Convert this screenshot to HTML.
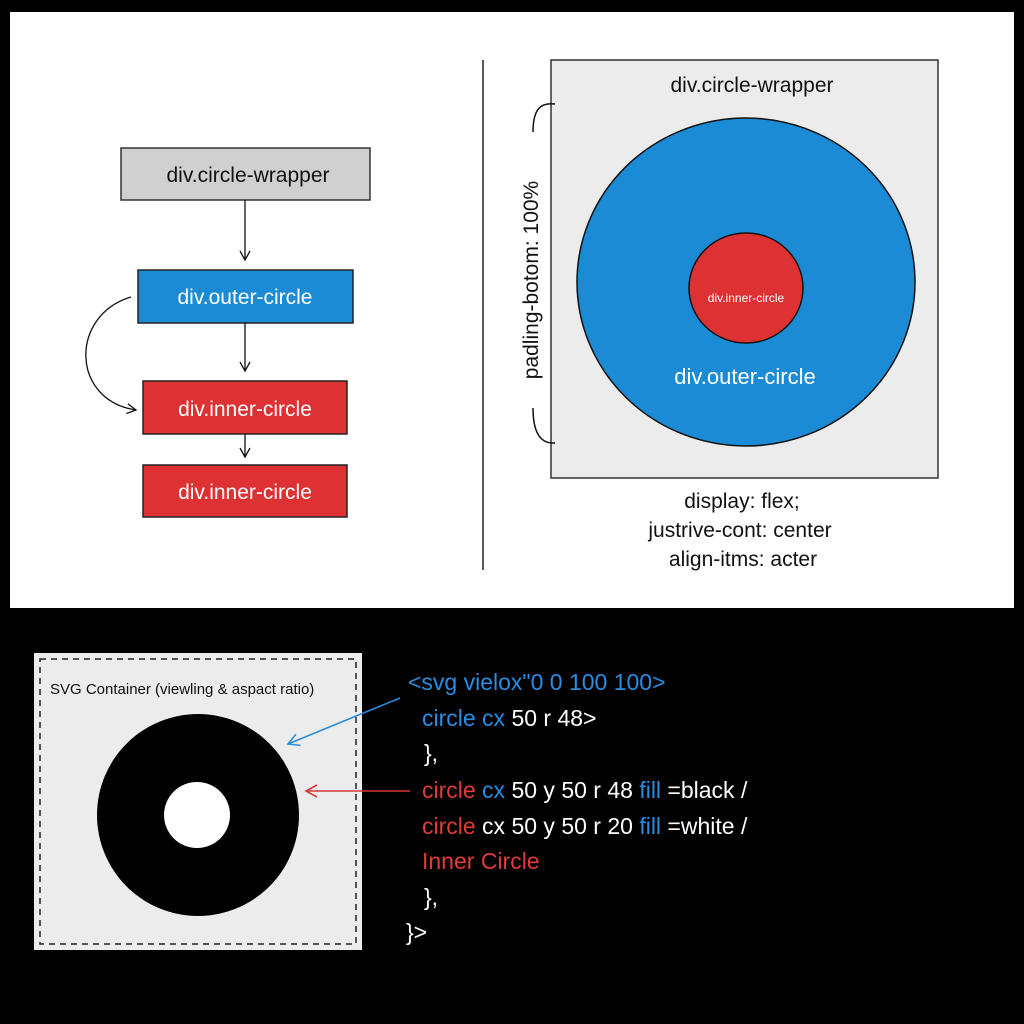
<!DOCTYPE html>
<html><head><meta charset="utf-8"><style>
html,body{margin:0;padding:0;background:#000;}
svg{display:block;}
text{font-family:"Liberation Sans",sans-serif;}
</style></head><body>
<svg width="1024" height="1024" viewBox="0 0 1024 1024" xmlns="http://www.w3.org/2000/svg">
<defs>
<marker id="ah" markerWidth="12" markerHeight="12" refX="10" refY="6" orient="auto" markerUnits="userSpaceOnUse">
<path d="M1,1 L10,6 L1,11" fill="none" stroke="#111" stroke-width="1.3"/></marker>
<marker id="ab" markerWidth="16" markerHeight="16" refX="13" refY="8" orient="auto" markerUnits="userSpaceOnUse">
<path d="M2,2 L13,8 L2,14" fill="none" stroke="#2a8de0" stroke-width="1.6"/></marker>
<marker id="ar" markerWidth="16" markerHeight="16" refX="13" refY="8" orient="auto" markerUnits="userSpaceOnUse">
<path d="M2,2 L13,8 L2,14" fill="none" stroke="#d63838" stroke-width="1.6"/></marker>
</defs>
<rect x="0" y="0" width="1024" height="1024" fill="#000"/>
<rect x="10" y="12" width="1004" height="596" fill="#fff"/>

<rect x="121" y="148" width="249" height="52" fill="#d0d0d0" stroke="#333" stroke-width="1.5"/>
<text x="248" y="182" font-size="21" text-anchor="middle" fill="#111">div.circle-wrapper</text>
<line x1="245" y1="200" x2="245" y2="260" stroke="#111" stroke-width="1.3" marker-end="url(#ah)"/>
<rect x="138" y="270" width="215" height="53" fill="#1a8bd4" stroke="#222" stroke-width="1.5"/>
<text x="245" y="304" font-size="21" text-anchor="middle" fill="#fff">div.outer-circle</text>
<line x1="245" y1="323" x2="245" y2="371" stroke="#111" stroke-width="1.3" marker-end="url(#ah)"/>
<rect x="143" y="381" width="204" height="53" fill="#de3133" stroke="#222" stroke-width="1.5"/>
<text x="245" y="416" font-size="21" text-anchor="middle" fill="#fff">div.inner-circle</text>
<line x1="245" y1="434" x2="245" y2="457" stroke="#111" stroke-width="1.3" marker-end="url(#ah)"/>
<rect x="143" y="465" width="204" height="52" fill="#de3133" stroke="#222" stroke-width="1.5"/>
<text x="245" y="499" font-size="21" text-anchor="middle" fill="#fff">div.inner-circle</text>
<path d="M131,297 C70,315 70,400 136,410" fill="none" stroke="#111" stroke-width="1.3" marker-end="url(#ah)"/>

<line x1="483" y1="60" x2="483" y2="570" stroke="#222" stroke-width="1.5"/>

<rect x="551" y="60" width="387" height="418" fill="#ececec" stroke="#333" stroke-width="1.5"/>
<text x="752" y="92" font-size="21" text-anchor="middle" fill="#111">div.circle-wrapper</text>
<ellipse cx="746" cy="282" rx="169" ry="164" fill="#1a8bd4" stroke="#111" stroke-width="1.5"/>
<ellipse cx="746" cy="288" rx="57" ry="55" fill="#de3133" stroke="#111" stroke-width="1.5"/>
<text x="746" y="302" font-size="12" text-anchor="middle" fill="#fff">div.inner-circle</text>
<text x="745" y="384" font-size="22" text-anchor="middle" fill="#fff">div.outer-circle</text>
<text transform="translate(538,280) rotate(-90)" font-size="21" text-anchor="middle" fill="#111">padling-botom: 100%</text>
<path d="M533,132 C533,110 540,102 555,104" fill="none" stroke="#111" stroke-width="1.5"/>
<path d="M533,408 C533,432 540,444 555,443" fill="none" stroke="#111" stroke-width="1.5"/>
<text x="742" y="508" font-size="21" text-anchor="middle" fill="#111">display: flex;</text>
<text x="740" y="537" font-size="21" text-anchor="middle" fill="#111">justrive-cont: center</text>
<text x="743" y="566" font-size="21" text-anchor="middle" fill="#111">align-itms: acter</text>

<rect x="34" y="653" width="328" height="297" fill="#ececec"/>
<rect x="40" y="659" width="316" height="285" fill="none" stroke="#222" stroke-width="1.5" stroke-dasharray="6,5"/>
<text x="50" y="694" font-size="15" fill="#111">SVG Container (viewling &amp; aspact ratio)</text>
<circle cx="198" cy="815" r="101" fill="#000"/>
<circle cx="197" cy="815" r="33" fill="#fff"/>
<line x1="400" y1="698" x2="288" y2="744" stroke="#2a8de0" stroke-width="1.6" marker-end="url(#ab)"/>
<line x1="410" y1="791" x2="306" y2="791" stroke="#d63838" stroke-width="1.6" marker-end="url(#ar)"/>

<g font-size="23">
<text x="408" y="690" fill="#2a8de0">&lt;svg vielox"0 0 100 100&gt;</text>
<text x="422" y="726"><tspan fill="#2a8de0">circle</tspan><tspan fill="#2a8de0"> cx</tspan><tspan fill="#fff"> 50  r 48&gt;</tspan></text>
<text x="424" y="761" fill="#fff">},</text>
<text x="422" y="798"><tspan fill="#e03a3a">circle</tspan><tspan fill="#2a8de0"> cx</tspan><tspan fill="#fff"> 50 y 50 r 48  </tspan><tspan fill="#2a8de0">fill</tspan><tspan fill="#fff"> =black /</tspan></text>
<text x="422" y="834"><tspan fill="#e03a3a">circle</tspan><tspan fill="#fff"> cx 50 y 50 r 20  </tspan><tspan fill="#2a8de0">fill</tspan><tspan fill="#fff"> =white /</tspan></text>
<text x="422" y="869" fill="#e03a3a">Inner Circle</text>
<text x="424" y="905" fill="#fff">},</text>
<text x="406" y="940" fill="#fff">}&gt;</text>
</g>
</svg>
</body></html>
